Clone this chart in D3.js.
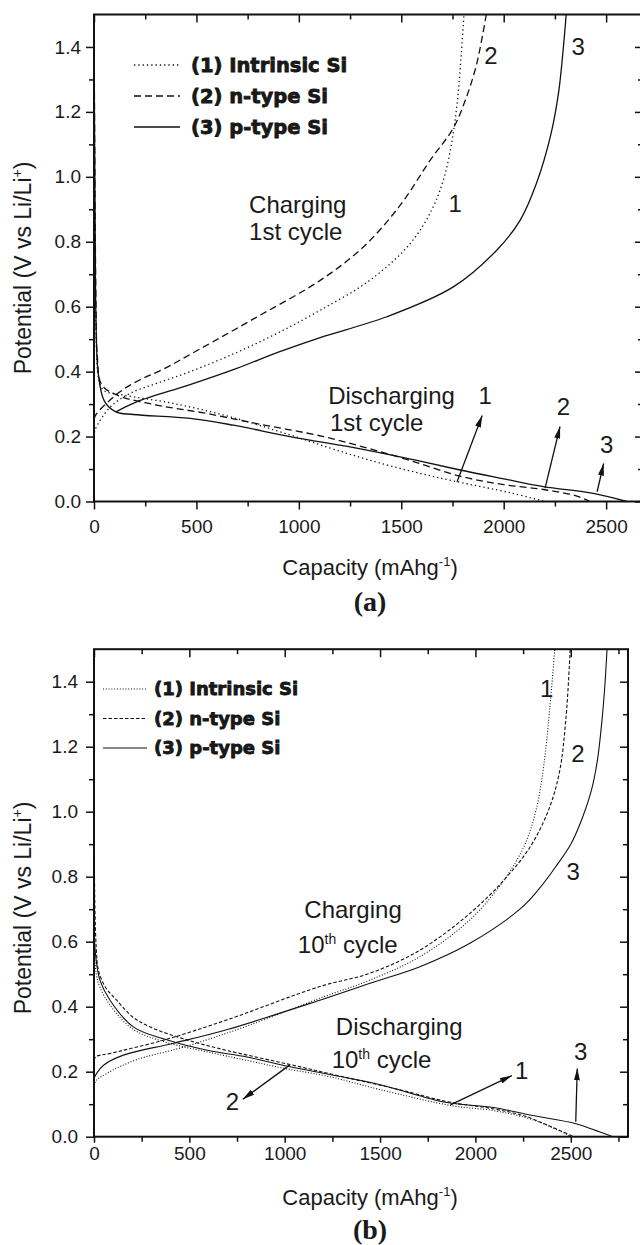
<!DOCTYPE html>
<html>
<head>
<meta charset="utf-8">
<script src="https://cdn.jsdelivr.net/npm/d3@7"></script>
<style>
  body { margin: 0; background: #fff; }
  svg { display: block; }
  text { font-family: "Liberation Sans", Arial, sans-serif; fill: #1a1a1a; }
</style>
</head>
<body>
<svg id="chart" width="640" height="1245"></svg>
<script>
// ---- data (capacity mAh/g, potential V) ----
const seriesNames = ["(1) Intrinsic Si", "(2) n-type Si", "(3) p-type Si"];
const xTicks = [0, 500, 1000, 1500, 2000, 2500];
const xMinor = [250, 750, 1250, 1750, 2250, 2750];
const yTicks = [0, 0.2, 0.4, 0.6, 0.8, 1.0, 1.2, 1.4];
const yMinor = [0.1, 0.3, 0.5, 0.7, 0.9, 1.1, 1.3];

// (a) 1st cycle
const disA1 = [[0,1.5],[2,1.15],[4,0.85],[7,0.62],[12,0.47],[22,0.38],[46,0.343],[143,0.328],[387,0.302],[664,0.261],[957,0.205],[1150,0.165],[1331,0.13],[1550,0.093],[1771,0.061],[2031,0.027],[2200,0]];
const disA2 = [[0,1.5],[3,1.15],[6,0.85],[10,0.6],[16,0.45],[37,0.36],[111,0.328],[306,0.297],[534,0.273],[794,0.24],[1120,0.2],[1331,0.165],[1550,0.125],[1787,0.078],[2000,0.052],[2194,0.037],[2350,0.018],[2420,0]];
const disA3 = [[0,1.5],[3,1.1],[6,0.8],[10,0.55],[20,0.4],[50,0.31],[107,0.276],[192,0.268],[469,0.256],[680,0.235],[957,0.2],[1300,0.162],[1550,0.13],[1787,0.097],[2000,0.07],[2194,0.046],[2438,0.025],[2601,0]];
const chgA1 = [[0,0.2],[5,0.22],[78,0.29],[176,0.333],[306,0.364],[469,0.4],[700,0.46],[900,0.52],[1104,0.589],[1348,0.682],[1543,0.794],[1650,0.9],[1710,1.0],[1750,1.12],[1775,1.24],[1792,1.37],[1806,1.5]];
const chgA2 = [[0,0.255],[13,0.271],[127,0.338],[225,0.375],[330,0.405],[518,0.47],[800,0.57],[1104,0.681],[1315,0.784],[1494,0.912],[1640,1.05],[1754,1.15],[1815,1.24],[1865,1.34],[1898,1.44],[1915,1.5]];
const chgA3 = [[107,0.276],[208,0.307],[469,0.36],[697,0.41],[900,0.46],[1104,0.505],[1429,0.569],[1754,0.661],[1966,0.774],[2080,0.866],[2160,0.98],[2230,1.13],[2268,1.26],[2290,1.39],[2305,1.5]];

// (b) 10th cycle
const disB1 = [[0,0.95],[2,0.6],[12,0.5],[31,0.46],[84,0.405],[206,0.33],[381,0.29],[586,0.262],[800,0.235],[1000,0.21],[1233,0.185],[1500,0.145],[1880,0.095],[2100,0.08],[2311,0.05],[2484,0.005],[2495,0]];
const disB2 = [[0,1.0],[5,0.7],[12,0.58],[23,0.513],[60,0.46],[119,0.42],[200,0.37],[293,0.338],[486,0.298],[700,0.265],[1028,0.222],[1300,0.185],[1600,0.145],[1850,0.108],[2100,0.085],[2250,0.065],[2400,0.03],[2515,0]];
const disB3 = [[0,1.0],[1,0.63],[10,0.55],[31,0.482],[84,0.42],[206,0.338],[381,0.298],[600,0.265],[802,0.245],[1028,0.215],[1250,0.19],[1500,0.16],[1850,0.105],[2095,0.09],[2300,0.065],[2527,0.04],[2650,0.015],[2721,0]];
const chgB1 = [[0,0.14],[8,0.17],[68,0.195],[219,0.236],[477,0.277],[800,0.34],[1184,0.426],[1447,0.482],[1709,0.554],[1971,0.667],[2150,0.79],[2260,0.9],[2320,1.01],[2360,1.15],[2390,1.32],[2416,1.5]];
const chgB2 = [[0,0.235],[10,0.246],[90,0.257],[370,0.298],[700,0.36],[1184,0.462],[1447,0.503],[1709,0.574],[1971,0.687],[2150,0.79],[2285,0.89],[2380,1.0],[2440,1.12],[2475,1.29],[2497,1.5]];
const chgB3 = [[0,0.18],[14,0.195],[50,0.22],[154,0.251],[413,0.287],[700,0.33],[1184,0.42],[1447,0.472],[1709,0.523],[1971,0.595],[2233,0.7],[2330,0.76],[2420,0.83],[2500,0.9],[2560,0.98],[2610,1.07],[2640,1.16],[2665,1.29],[2680,1.4],[2690,1.5]];

// annotations, in data units: arrows [cap0, v0, cap1, v1], numbers [text, cap, v]
const arrowsA = [[1772,0.06,1895,0.265],[2202,0.041,2275,0.231],[2456,0.03,2488,0.117]];
const numbersA = [["1",1763,0.918],["2",1938,1.375],["3",2363,1.402],["1",1909,0.328],["2",2291,0.294],["3",2503,0.177]];
const notesA = [[["Charging"], 757, 0.89], [["1st cycle"], 757, 0.805], [["Discharging"], 1143, 0.3], [["1st cycle"], 1152, 0.217]];
const arrowsB = [[1869,0.098,2191,0.188],[1027,0.221,780,0.115],[2526,0.046,2534,0.21]];
const numbersB = [["1",2373,1.38],["2",2538,1.18],["3",2512,0.815],["1",2243,0.205],["2",726,0.108],["3",2552,0.262]];
const notesB = [[["Charging"], 1103, 0.673], [["10","th"," cycle"], 1069, 0.565], [["Discharging"], 1268, 0.313], [["10","th"," cycle"], 1246, 0.211]];

const svg = d3.select("#chart");

svg.append("defs").append("marker")
  .attr("id", "ah")
  .attr("viewBox", "0 0 10 10")
  .attr("refX", 10).attr("refY", 5)
  .attr("markerUnits", "userSpaceOnUse")
  .attr("markerWidth", 12).attr("markerHeight", 6)
  .attr("preserveAspectRatio", "none")
  .attr("orient", "auto")
  .append("path").attr("d", "M0,0L10,5L0,10z").attr("fill", "#111");

function styleAxis(sel, labels) {
  sel.select(".domain").remove();
  sel.attr("font-size", 19).attr("font-family", "Liberation Sans, Arial, sans-serif");
  sel.selectAll("line").attr("stroke", "#111").attr("stroke-width", 1.5);
  if (!labels) sel.selectAll("text").remove();
  sel.selectAll("text").attr("fill", "#1a1a1a");
}

function drawPanel(p) {
  const x = d3.scaleLinear().domain([0, p.xMax]).range([p.left, p.right]);
  const y = d3.scaleLinear().domain([0, 1.5]).range([p.bottom, p.top]);
  const g = svg.append("g");

  // bottom / left axes with labels, top / right ticks pointing inward
  g.append("g").attr("transform", `translate(0,${p.bottom})`)
    .call(d3.axisBottom(x).tickValues(xTicks).tickSize(p.xTick).tickSizeOuter(0).tickPadding(p.xPad).tickFormat(d3.format("d")))
    .call(s => styleAxis(s, true));
  g.append("g").attr("transform", `translate(0,${p.bottom})`)
    .call(d3.axisBottom(x).tickValues(xMinor.filter(v => v < p.xMax)).tickSize(5).tickSizeOuter(0))
    .call(s => styleAxis(s, false));
  g.append("g").attr("transform", `translate(0,${p.top})`)
    .call(d3.axisTop(x).tickValues(xTicks).tickSize(-8).tickSizeOuter(0))
    .call(s => styleAxis(s, false));
  g.append("g").attr("transform", `translate(0,${p.top})`)
    .call(d3.axisTop(x).tickValues(xMinor.filter(v => v < p.xMax)).tickSize(-5).tickSizeOuter(0))
    .call(s => styleAxis(s, false));

  g.append("g").attr("transform", `translate(${p.left},0)`)
    .call(d3.axisLeft(y).tickValues(yTicks).tickSize(8).tickSizeOuter(0).tickPadding(p.yPad).tickFormat(d3.format(".1f")))
    .call(s => styleAxis(s, true));
  g.append("g").attr("transform", `translate(${p.left},0)`)
    .call(d3.axisLeft(y).tickValues(yMinor).tickSize(5).tickSizeOuter(0))
    .call(s => styleAxis(s, false));
  g.append("g").attr("transform", `translate(${p.right},0)`)
    .call(d3.axisRight(y).tickValues(yTicks).tickSize(-8).tickSizeOuter(0))
    .call(s => styleAxis(s, false));
  g.append("g").attr("transform", `translate(${p.right},0)`)
    .call(d3.axisRight(y).tickValues(yMinor).tickSize(-5).tickSizeOuter(0))
    .call(s => styleAxis(s, false));

  g.append("rect")
    .attr("x", p.left).attr("y", p.top)
    .attr("width", p.right - p.left).attr("height", p.bottom - p.top)
    .attr("fill", "none").attr("stroke", "#111").attr("stroke-width", 2);

  // curves
  const line = d3.line().x(d => x(d[0])).y(d => y(d[1])).curve(d3.curveCatmullRom.alpha(0.5));
  p.curves.forEach((c, i) => {
    g.append("path").datum(c)
      .attr("d", line)
      .attr("fill", "none")
      .attr("stroke", "#111")
      .attr("stroke-width", p.lw)
      .attr("stroke-dasharray", p.dash[i % 3]);
  });

  // legend
  seriesNames.forEach((name, i) => {
    const ly = p.legY + i * p.legStep;
    g.append("line")
      .attr("x1", p.legX).attr("x2", p.legX + p.legLen)
      .attr("y1", ly).attr("y2", ly)
      .attr("stroke", "#111").attr("stroke-width", p.lw)
      .attr("stroke-dasharray", p.dash[i]);
    g.append("text")
      .attr("x", p.legX + p.legLen + p.legGap).attr("y", ly).attr("dy", "0.36em")
      .style("font-family", "DejaVu Sans, sans-serif")
      .style("font-weight", "bold")
      .style("font-size", p.legFont + "px")
      .attr("stroke", "#111").attr("stroke-width", 0.8)
      .text(name);
  });

  // annotations
  p.arrows.forEach(a => {
    g.append("line")
      .attr("x1", x(a[0])).attr("y1", y(a[1]))
      .attr("x2", x(a[2])).attr("y2", y(a[3]))
      .attr("stroke", "#111").attr("stroke-width", 1.3)
      .attr("marker-end", "url(#ah)");
  });
  p.numbers.forEach(n => {
    g.append("text")
      .attr("x", x(n[1])).attr("y", y(n[2])).attr("dy", "0.36em")
      .attr("text-anchor", "middle")
      .style("font-size", "24px")
      .text(n[0]);
  });
  p.notes.forEach(n => {
    const t = g.append("text")
      .attr("x", x(n[1])).attr("y", y(n[2]))
      .style("font-size", "24px");
    if (n[0].length === 1) {
      t.text(n[0][0]);
    } else {
      t.append("tspan").text(n[0][0]);
      t.append("tspan").attr("dy", -9).style("font-size", "14px").text(n[0][1]);
      t.append("tspan").attr("dy", 9).text(n[0][2]);
    }
  });

  // axis titles
  const yt = g.append("text")
    .attr("transform", `translate(23,${p.yTitleY}) rotate(-90)`)
    .attr("dy", "0.36em")
    .attr("text-anchor", "middle")
    .style("font-size", "23px");
  yt.append("tspan").text("Potential (V vs Li/Li");
  yt.append("tspan").attr("dy", -9).style("font-size", "14px").text("+");
  yt.append("tspan").attr("dy", 9).text(")");

  const xt = g.append("text")
    .attr("x", 370).attr("y", p.xTitleY)
    .attr("text-anchor", "middle")
    .style("font-size", "22px");
  xt.append("tspan").text("Capacity (mAhg");
  xt.append("tspan").attr("dy", -9).style("font-size", "13px").text("-1");
  xt.append("tspan").attr("dy", 9).text(")");

  g.append("text")
    .attr("x", 370).attr("y", p.tagY)
    .attr("text-anchor", "middle")
    .style("font-family", "Liberation Serif, Times New Roman, serif")
    .style("font-weight", "bold")
    .style("font-size", "28px")
    .text(p.tag);
}

drawPanel({
  left: 94, right: 643, top: 14.5, bottom: 501.5, xMax: 2680,
  xTick: 8, xPad: 10, yPad: 5,
  lw: 1.3, dash: ["1.3,3", "7,4", null],
  curves: [disA1, disA2, disA3, chgA1, chgA2, chgA3],
  legX: 134, legLen: 46, legGap: 11, legY: 65, legStep: 31, legFont: 19.5,
  arrows: arrowsA, numbers: numbersA, notes: notesA,
  yTitleY: 268, xTitleY: 575, tagY: 611, tag: "(a)"
});

drawPanel({
  left: 94, right: 628, top: 649.2, bottom: 1136.7, xMax: 2800,
  xTick: 6, xPad: 4, yPad: 8,
  lw: 1.1, dash: ["1,1.8", "3.5,2", null],
  curves: [disB1, disB2, disB3, chgB1, chgB2, chgB3],
  legX: 103, legLen: 44, legGap: 7, legY: 689, legStep: 29.5, legFont: 18,
  arrows: arrowsB, numbers: numbersB, notes: notesB,
  yTitleY: 908, xTitleY: 1205, tagY: 1239, tag: "(b)"
});
</script>
</body>
</html>
